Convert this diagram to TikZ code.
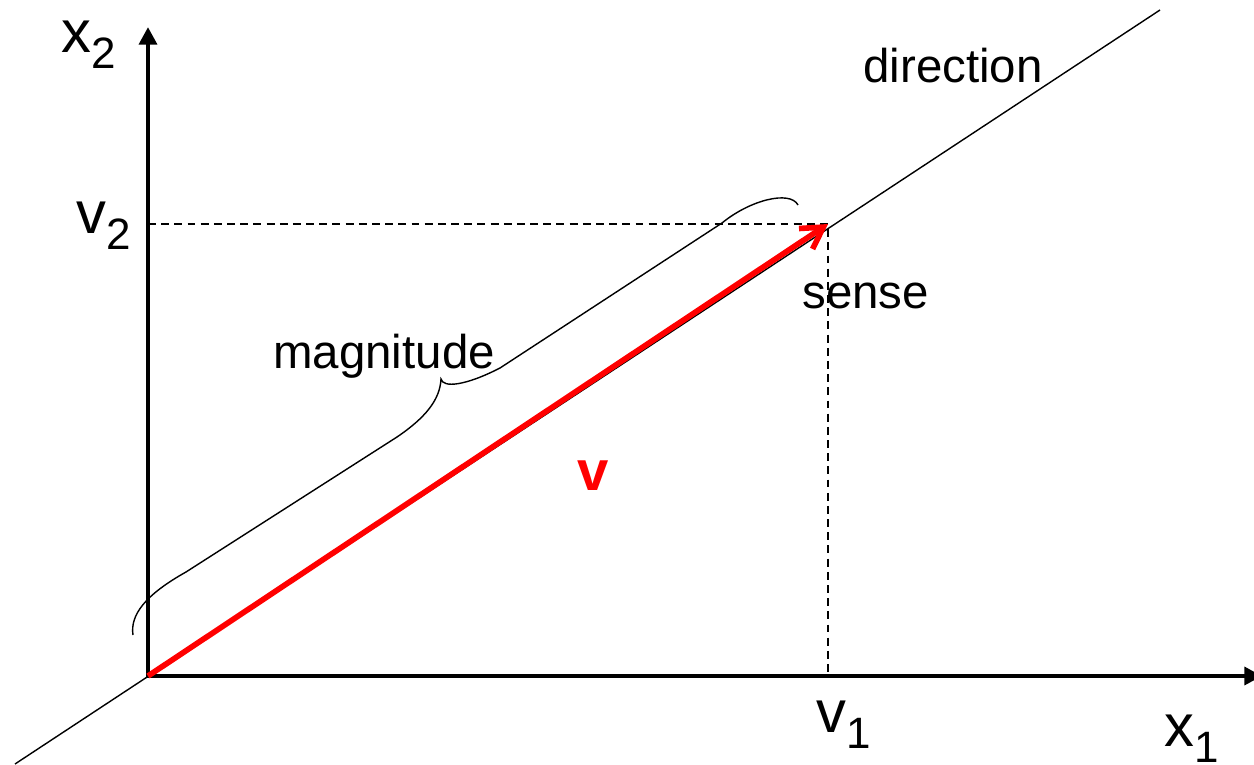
\documentclass[tikz,border=0pt]{standalone}
\usepackage{fontspec}
\setmainfont{Liberation Sans}
\usetikzlibrary{arrows.meta, positioning}

\newcommand{\lowsub}[1]{\raisebox{-9.3pt}{\fontsize{25}{25}\selectfont #1}}

\begin{document}
\begin{tikzpicture}[x=0.02cm, y=-0.02cm,
  lbl/.style={inner sep=0pt, anchor=base west, font=\fontsize{27}{27}\selectfont},
  coord/.style={lbl, font=\fontsize{34}{34}\selectfont},
  axis/.style={line width=2.8pt, line cap=rect, -{Triangle[length=10pt,width=10pt]}},
  guide/.style={dash pattern=on 4.5pt off 3pt, line width=0.8pt},
  vec/.style={red, line width=3.2pt, -{Straight Barb[length=12pt,width=14pt]}}]
  \useasboundingbox (0,0) rectangle (1254,764);
  % points
  \coordinate (O) at (148,676);
  \coordinate (ytip) at (148,27);
  \coordinate (xtip) at (1262,676);
  \coordinate (P) at (828,224);
  \coordinate (v2) at (148,224);
  \coordinate (v1) at (828,676);
  \coordinate (dlo) at (15,764);
  \coordinate (dhi) at (1160,10);
  % lines
  \draw[line width=0.8pt] (dlo) -- (dhi);
  \draw[guide] (v2) -- (P) -- (v1);
  \draw[axis] (O) -- (ytip);
  \draw[axis] (O) -- (xtip);
  \draw[vec] (O) -- (P);
  % brace
  \draw[line width=0.8pt] (133,635) .. controls (130,615) and (145,595) .. (186,572)
    -- (397,437) .. controls (425,418) and (440,400) .. (441,379)
    .. controls (443,388) and (465,386) .. (500,368)
    -- (722,223) .. controls (750,200) and (790,190) .. (798,205);
  % labels
  \node[coord] (x2) at (61,52) {x\lowsub{2}};
  \node[coord] (v2l) at (76,233) {v\lowsub{2}};
  \node[coord] (v1l) at (816,732) {v\lowsub{1}};
  \node[coord] (x1) at (1164,746) {x\lowsub{1}};
  \node[lbl] (dir) at (863,82) {direction};
  \node[lbl] (sense) at (802,308) {sense};
  \node[lbl] (mag) at (273,368) {magnitude};
  \node[lbl, text=red, font=\fontsize{32}{32}\selectfont\bfseries] (v) at (577,490) {v};
\end{tikzpicture}
\end{document}
